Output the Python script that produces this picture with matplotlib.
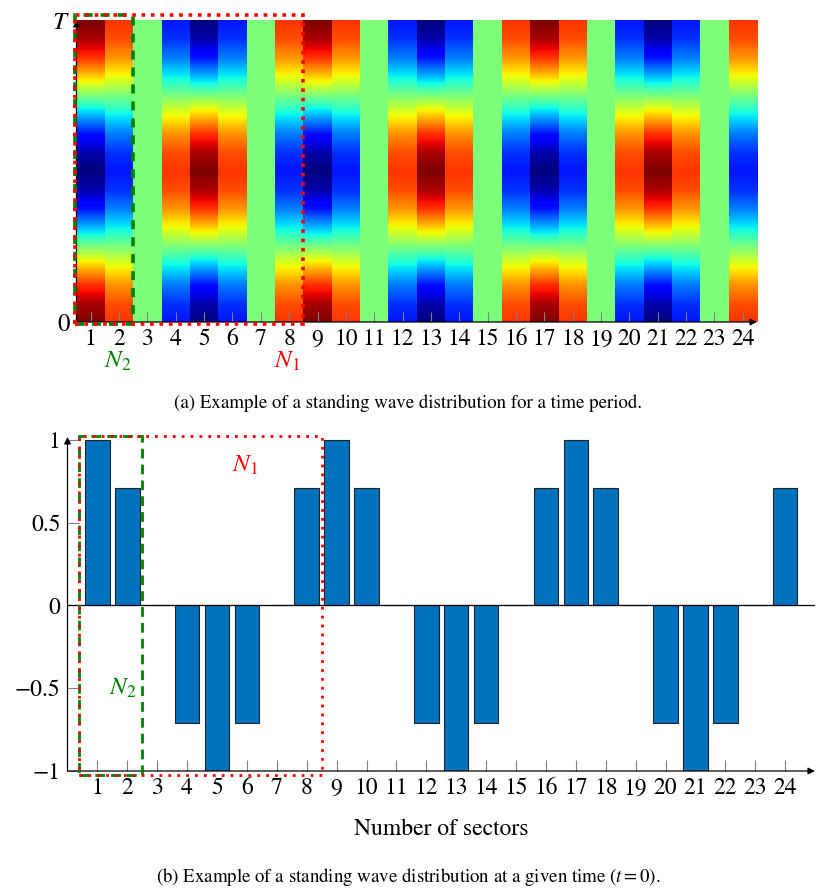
import numpy as np
import matplotlib
matplotlib.use('Agg')
from matplotlib import pyplot as plt
from matplotlib.patches import Rectangle

plt.rcParams['font.family'] = 'STIXGeneral'
plt.rcParams['mathtext.fontset'] = 'stix'

#sector numbers and the standing wave amplitude of each sector at t=0
sectors = list(range(1, 25))
amplitudes = [1, 0.71, 0, -0.71, -1, -0.71, 0, 0.71,
              1, 0.71, 0, -0.71, -1, -0.71, 0, 0.71,
              1, 0.71, 0, -0.71, -1, -0.71, 0, 0.71]

time_profile = [1, 0.92, 0.71, 0.38, 0, -0.38, -0.71, -0.92, -1,
                -0.92, -0.71, -0.38, 0, 0.38, 0.71, 0.92, 1]

ytick_vals = [-1, -0.5, 0, 0.5, 1]
ytick_labels = ['\u22121', '\u22120.5', '0', '0.5', '1']

W, H = 817.0, 888.0
fig = plt.figure(figsize=(W/100, H/100), dpi=100)

def arrow(ax, start, end):
    ax.annotate('', xy=end, xytext=start, xycoords='axes fraction',
                arrowprops=dict(arrowstyle='-|>', color='black', lw=0.9,
                                mutation_scale=10, shrinkA=0, shrinkB=0))

#---------- (a) heatmap over one period ----------
ax1 = fig.add_axes([76.5/W, 1-322/H, (757-76.5)/W, 302/H])
nt = len(time_profile)
half = 0.5/(nt-1)
for k, a in zip(sectors, amplitudes):
    col = np.array(time_profile).reshape(-1, 1)*a
    ax1.imshow(col, extent=(k-0.5, k+0.5, -half, 1+half), origin='lower',
               cmap='jet', vmin=-1, vmax=1, aspect='auto',
               interpolation='bilinear', interpolation_stage='data')
ax1.set_xlim(0.5, 24.5)
ax1.set_ylim(0, 1)
for s in ax1.spines.values():
    s.set_visible(False)
ax1.set_xticks(sectors)
ax1.set_xticklabels([str(s) for s in sectors])
ax1.set_yticks([0, 1])
ax1.set_yticklabels(['0', '$T$'])
ax1.tick_params(axis='x', direction='in', length=7, color='gray', width=0.8,
                labelsize=17, pad=5)
ax1.tick_params(axis='y', length=0, labelsize=18, pad=5)
arrow(ax1, (0, 0), (1, 0))
arrow(ax1, (0, 0), (0, 1))

ax1.add_patch(Rectangle((0.45, -0.005), 2.05, 1.022, fill=False, ec='#008000',
                        lw=2.6, ls=(0, (2.5, 2.2)), clip_on=False, zorder=5))
ax1.add_patch(Rectangle((0.45, -0.005), 8.05, 1.022, fill=False, ec='red',
                        lw=2.6, ls=(0, (1, 1.6)), clip_on=False, zorder=6))
ax1.annotate('$N_2$', xy=(1.96, -0.092), xycoords=('data', 'axes fraction'),
             color='#008000', fontsize=18, ha='center', va='top')
ax1.annotate('$N_1$', xy=(7.92, -0.092), xycoords=('data', 'axes fraction'),
             color='red', fontsize=18, ha='center', va='top')

fig.text(0.4994, 1-403/H, '(a) Example of a standing wave distribution for a time period.',
         ha='center', va='center', fontsize=13.6)

#---------- (b) bars at t = 0 ----------
ax2 = fig.add_axes([67.5/W, 1-771/H, 747.5/W, 334/H])
ax2.bar(sectors, amplitudes, width=0.82, color='#0072BD', edgecolor='#222222',
        lw=0.8, zorder=2)
ax2.axhline(0, color='black', lw=0.9, zorder=3)
ax2.set_xlim(0, 25)
ax2.set_ylim(-1, 1.018)
for s in ax2.spines.values():
    s.set_visible(False)
ax2.set_xticks(sectors)
ax2.set_xticklabels([str(s) for s in sectors])
ax2.set_yticks(ytick_vals)
ax2.set_yticklabels(ytick_labels)
ax2.tick_params(axis='both', direction='in', length=8, color='gray', width=0.8,
                labelsize=17, pad=5)
arrow(ax2, (0, 0), (1, 0))
arrow(ax2, (0, 0), (0, 1))
ax2.set_xlabel('Number of sectors', fontsize=17, labelpad=14)

ax2.add_patch(Rectangle((0.4, -1.024), 2.1, 2.048, fill=False, ec='#008000',
                        lw=2.0, ls=(0, (3.5, 2.2)), clip_on=False, zorder=5))
ax2.add_patch(Rectangle((0.4, -1.024), 8.1, 2.048, fill=False, ec='red',
                        lw=2.0, ls=(0, (1, 2.2)), clip_on=False, zorder=6))
ax2.text(5.94, 0.846, '$N_1$', color='red', fontsize=18, ha='center', va='center')
ax2.text(1.86, -0.5, '$N_2$', color='#008000', fontsize=18, ha='center', va='center')

fig.text(0.4994, 1-877/H,
         '(b) Example of a standing wave distribution at a given time ($t = 0$).',
         ha='center', va='center', fontsize=13.6)

fig.savefig('out.png', dpi=100)
